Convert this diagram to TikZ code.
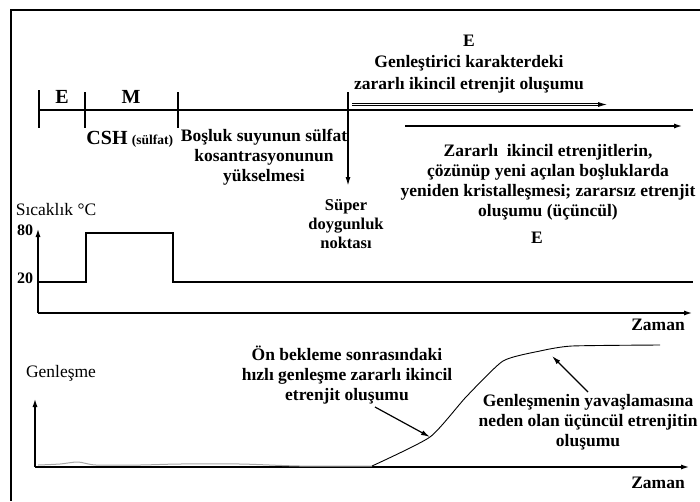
\documentclass[tikz,border=0pt]{standalone}
\usepackage{fontspec}
\setmainfont{Liberation Serif}
\usetikzlibrary{arrows.meta,positioning}

\begin{document}
\begin{tikzpicture}[x=1pt,y=-1pt,
    txt/.style={font=\fontsize{17.5}{20}\selectfont\bfseries, align=center, inner sep=0pt},
    thin txt/.style={font=\fontsize{17.5}{20}\selectfont, inner sep=0pt},
    axis/.style={line width=1.8pt, -{Latex[length=9pt,width=5pt]}},
    tip/.style={-{Latex[length=9pt,width=5pt]}}]
    \useasboundingbox (0,0) rectangle (700,501);

    \draw [line width=2pt] (700,10) -- (11,10) -- (11,501);

    \coordinate (t0) at (38,110);
    \coordinate (t1) at (693,110);
    \draw [line width=2pt] (t0) -- (t1);
    \foreach \x/\y in {39/90, 85/92, 178/92}
        \draw [line width=2pt] (\x,\y) -- (\x,128);

    \node [txt, font=\fontsize{20}{22}\selectfont\bfseries] (e1) at (62,97)  {E};
    \node [txt, font=\fontsize{20}{22}\selectfont\bfseries] (m1) at (131,97) {M};
    \node [txt, font=\fontsize{20}{22}\selectfont\bfseries] (csh) at (107,138) {CSH};
    \node [txt, font=\fontsize{13.5}{15}\selectfont\bfseries, right=4pt of csh, yshift=-3pt] (slf) {(sülfat)};
    \node [txt] (bosluk) at (264,157) {Boşluk suyunun sülfat\\kosantrasyonunun\\yükselmesi};

    \coordinate (s0) at (348,92);
    \coordinate (s1) at (348,186);
    \draw [line width=1.5pt, tip] (s0) -- (s1);
    \node [txt, font=\fontsize{16.5}{19}\selectfont\bfseries] (super) at (346,224) {Süper\\doygunluk\\noktası};

    \node [txt, font=\fontsize{17.5}{21.5}\selectfont\bfseries] (gen) at (469,64)
        {E\\Genleştirici karakterdeki\\zararlı ikincil etrenjit oluşumu};
    \coordinate (g0) at (352,104.5);
    \coordinate (g1) at (607,104.5);
    \draw [double, double distance=1.6pt, line width=0.8pt, tip] (g0) -- (g1);

    \coordinate (z0) at (405,126);
    \coordinate (z1) at (683,126);
    \draw [line width=2pt, tip] (z0) -- (z1);
    \node [txt] (zarar) at (548,182.5)
        {Zararlı\ \ ikincil etrenjitlerin,\\çözünüp yeni açılan boşluklarda\\yeniden kristalleşmesi; zararsız etrenjit\\oluşumu (üçüncül)};
    \node [txt] (e2) at (537,238) {E};

    \coordinate (o1) at (38,313);
    \draw [axis] (o1) -- (38,228);
    \draw [axis] (o1) -- (693,313);
    \node [thin txt] (sic) at (56,210) {Sıcaklık °C};
    \node [txt, font=\fontsize{16}{18}\selectfont\bfseries] (t80) at (25,230) {80};
    \node [txt, font=\fontsize{16}{18}\selectfont\bfseries] (t20) at (25,278) {20};
    \draw [line width=1.2pt] (38,282) -- (86,282) -- (86,233) -- (173,233) -- (173,282) -- (693,282);
    \node [txt] (zaman1) at (658,325) {Zaman};

    \coordinate (o2) at (35,467);
    \draw [axis] (o2) -- (35,398);
    \draw [axis] (o2) -- (690,467);
    \node [thin txt] (gnl) at (61,373) {Genleşme};
    \node [txt] (zaman2) at (658,483) {Zaman};

    \draw [gray!70, line width=1pt] plot [smooth] coordinates
        {(38,465) (60,464) (78,462) (96,465) (140,465) (180,464) (240,464) (300,466) (372,466)};
    \coordinate (k1) at (430,437);
    \coordinate (k2) at (552,356);
    \draw [line width=0.9pt] plot [smooth, tension=0.35] coordinates
        {(372,466) (k1) (466,397) (503,361) (540,351) (572,346) (660,345)};

    \node [txt] (onb) at (347,375) {Ön bekleme sonrasındaki\\hızlı genleşme zararlı ikincil\\etrenjit oluşumu};
    \coordinate (a1) at (375,407);
    \draw [line width=1.2pt, tip] (a1) -- (k1);
    \node [txt] (yav) at (588,422) {Genleşmenin yavaşlamasına\\neden olan üçüncül etrenjitin\\oluşumu};
    \coordinate (a2) at (588,392);
    \draw [line width=1.2pt, tip] (a2) -- (k2);
\end{tikzpicture}
\end{document}
